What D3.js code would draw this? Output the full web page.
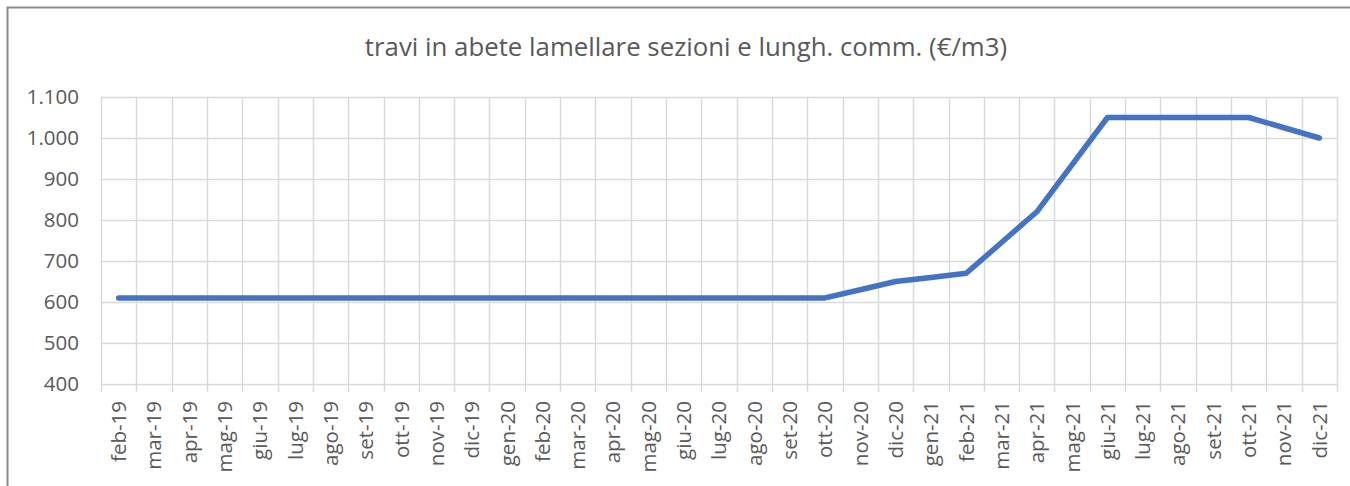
<!DOCTYPE html>
<html>
<head>
<meta charset="utf-8">
<script src="https://cdn.jsdelivr.net/npm/d3@7"></script>
<style>
    body { margin: 0; background: #fff; }
    svg { display: block; font-family: 'Open Sans', 'Noto Sans', sans-serif; }
</style>
</head>
<body>
<div id="chart"></div>
<script>
const months = ['feb-19', 'mar-19', 'apr-19', 'mag-19', 'giu-19', 'lug-19', 'ago-19', 'set-19', 'ott-19', 'nov-19', 'dic-19',
    'gen-20', 'feb-20', 'mar-20', 'apr-20', 'mag-20', 'giu-20', 'lug-20', 'ago-20', 'set-20', 'ott-20', 'nov-20', 'dic-20',
    'gen-21', 'feb-21', 'mar-21', 'apr-21', 'mag-21', 'giu-21', 'lug-21', 'ago-21', 'set-21', 'ott-21', 'nov-21', 'dic-21'];
const prices = [610, 610, 610, 610, 610, 610, 610, 610, 610, 610, 610,
    610, 610, 610, 610, 610, 610, 610, 610, 610, 610, 630, 650,
    660, 670, 745, 820, 935, 1050, 1050, 1050, 1050, 1050, 1025, 1000];
const yTicks = [400, 500, 600, 700, 800, 900, 1000, 1100];
const title = 'travi in abete lamellare sezioni e lungh. comm. (€/m3)';

const width = 1350, height = 486;
const plot = { left: 101, right: 1337, top: 97, bottom: 384 };
const textColor = '#595959';
const gridColor = '#d9d9d9';

const svg = d3.select('#chart')
    .append('svg')
    .attr('width', width)
    .attr('height', height);

// chart frame
svg.append('rect')
    .attr('x', 7.5).attr('y', 7.5)
    .attr('width', 1380).attr('height', 500)
    .attr('fill', 'none')
    .attr('stroke', '#8c8c8c')
    .attr('stroke-width', 2);

svg.append('text')
    .attr('x', 686).attr('y', 56)
    .attr('text-anchor', 'middle')
    .attr('fill', textColor)
    .attr('font-size', '25.8px')
    .text(title);

const x = d3.scaleBand()
    .domain(months)
    .range([plot.left, plot.right]);
const y = d3.scaleLinear()
    .domain([400, 1100])
    .range([plot.bottom, plot.top]);

const fmt = d3.formatLocale({ decimal: ',', thousands: '.', grouping: [3], currency: ['€', ''] }).format(',d');

// horizontal gridlines
svg.append('g')
    .selectAll('line')
    .data(yTicks)
    .join('line')
    .attr('x1', plot.left).attr('x2', plot.right)
    .attr('y1', d => Math.round(y(d)) + 0.5).attr('y2', d => Math.round(y(d)) + 0.5)
    .attr('stroke', gridColor)
    .attr('stroke-width', 1.5);

// vertical gridlines at category boundaries, extending below as tick marks
const bounds = months.map(m => x(m)).concat([plot.right]);
svg.append('g')
    .selectAll('line')
    .data(bounds)
    .join('line')
    .attr('x1', d => Math.round(d) + 0.5).attr('x2', d => Math.round(d) + 0.5)
    .attr('y1', plot.top).attr('y2', plot.bottom + 8)
    .attr('stroke', gridColor)
    .attr('stroke-width', 1.5);

// y labels
svg.append('g')
    .selectAll('text')
    .data(yTicks)
    .join('text')
    .attr('x', 79)
    .attr('y', d => y(d))
    .attr('dy', '0.36em')
    .attr('text-anchor', 'end')
    .attr('fill', textColor)
    .attr('font-size', '20.5px')
    .text(d => fmt(d));

// x labels
svg.append('g')
    .selectAll('text')
    .data(months)
    .join('text')
    .attr('transform', d => `translate(${x(d) + x.bandwidth() / 2},${plot.bottom + 17}) rotate(-90)`)
    .attr('dy', '0.36em')
    .attr('text-anchor', 'end')
    .attr('fill', textColor)
    .attr('font-size', '20.5px')
    .text(d => d);

const line = d3.line()
    .x((d, i) => x(months[i]) + x.bandwidth() / 2)
    .y(d => y(d));

svg.append('path')
    .datum(prices)
    .attr('d', line)
    .attr('fill', 'none')
    .attr('stroke', '#4472c4')
    .attr('stroke-width', 5.5)
    .attr('stroke-linecap', 'round')
    .attr('stroke-linejoin', 'round');
</script>
</body>
</html>
